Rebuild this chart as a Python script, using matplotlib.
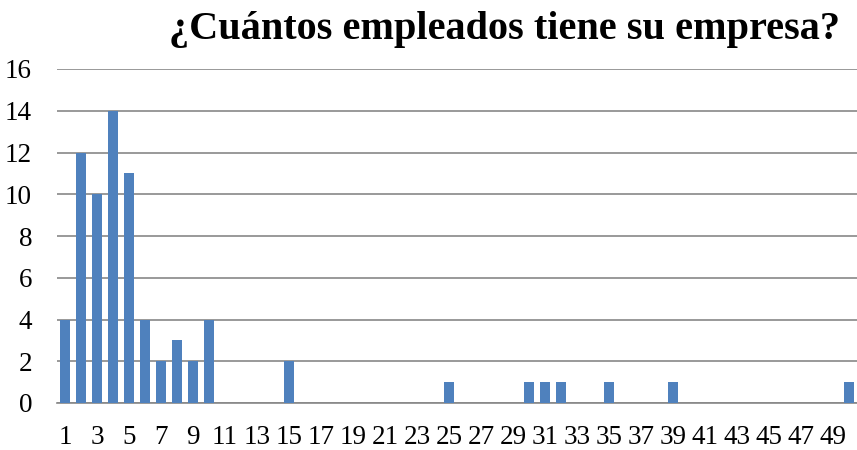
import matplotlib
matplotlib.use('Agg')
import matplotlib.pyplot as plt

plt.rcParams['font.family'] = 'Liberation Serif'

# datos
categorias = list(range(1, 51))
valores = [4, 12, 10, 14, 11, 4, 2, 3, 2, 4,
           0, 0, 0, 0, 2, 0, 0, 0, 0, 0,
           0, 0, 0, 0, 1, 0, 0, 0, 0, 1,
           1, 1, 0, 0, 1, 0, 0, 0, 1, 0,
           0, 0, 0, 0, 0, 0, 0, 0, 0, 1]
etiquetas_x = [str(c) if c % 2 == 1 else '' for c in categorias]
ticks_y = [0, 2, 4, 6, 8, 10, 12, 14, 16]
titulo = '¿Cuántos empleados tiene su empresa?'

fig = plt.figure(figsize=(8.57, 4.5), dpi=100)
ax = fig.add_axes([57 / 857, 1 - 403 / 450, 800 / 857, (403 - 69) / 450])

ax.bar(categorias, valores, width=0.58, color='#4F81BD', zorder=3)
ax.set_xlim(0.5, 50.5)
ax.set_ylim(0, 16)
ax.set_yticks(ticks_y)
ax.set_xticks(categorias)
ax.set_xticklabels(etiquetas_x)
ax.yaxis.grid(True, color='#878787', linewidth=1.2, zorder=0)
ax.tick_params(axis='both', length=0, labelsize=19.5)
ax.tick_params(axis='y', pad=18)
ax.tick_params(axis='x', pad=16)
for s in ['left', 'right', 'top']:
    ax.spines[s].set_visible(False)
ax.spines['bottom'].set_color('#878787')
ax.spines['bottom'].set_linewidth(1.2)

fig.text(505 / 857, 1 - 30 / 450, titulo, ha='center', va='center',
         fontsize=29, fontweight='bold')

fig.savefig('out.png', dpi=100)
